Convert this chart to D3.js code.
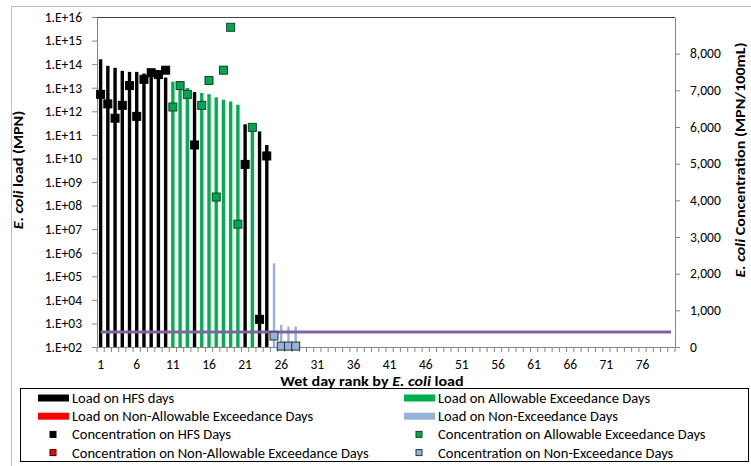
<!DOCTYPE html>
<html>
<head>
<meta charset="utf-8">
<script src="https://cdn.jsdelivr.net/npm/d3@7"></script>
<style>
  body { margin: 0; background: #fff; }
  svg { font-family: Carlito, Calibri, "Liberation Sans", sans-serif; }
</style>
</head>
<body>
<div id="chart"></div>
<script>
// wet-day ranks shown on the category axis
var ranks = d3.range(1, 81);
var tickRanks = [1, 6, 11, 16, 21, 26, 31, 36, 41, 46, 51, 56, 61, 66, 71, 76];

// load (MPN) for ranks 1..28
var loads = [1.6e14, 8.5e13, 7e13, 5.2e13, 4.7e13, 4.7e13, 4e13, 4e13, 3.5e13, 2.7e13,
             1.8e13, 1.3e13, 9.8e12, 6.6e12, 6e12, 5.3e12, 3.9e12, 3.1e12, 2.6e12, 1.9e12,
             2.8e11, 2.6e11, 1.4e11, 3.7e10, 3.5e5, 860, 730, 730];
// concentration (MPN/100mL) for ranks 1..28
var concs = [6890, 6630, 6240, 6590, 7130, 6290, 7300, 7480, 7430, 7550,
             6545, 7130, 6890, 5510, 6590, 7270, 4090, 7550, 8720, 3350,
             4980, 5990, 755, 5210, 300, 25, 25, 25];
// day class: H = HFS, A = allowable exceedance, N = non-exceedance
var dayClass = ["H","H","H","H","H","H","H","H","H","H",
                "A","A","A","H","A","A","A","A","A","A",
                "H","A","H","H","N","N","N","N"];
var threshold = 410;

var barColor = {H: "#000000", A: "#00b050", X: "#ff0000", N: "#95b3d7"};
var markFill = {H: "#000000", A: "#00a650", X: "#ff0000", N: "#95b3d7"};
var markStroke = {H: "#000000", A: "#1e3d26", X: "#3a0000", N: "#2b3440"};

var W = 751, H = 466;
var margin = {top: 17, right: 76, bottom: 119, left: 97};

var svg = d3.select("#chart").append("svg").attr("width", W).attr("height", H);

// outer chart border
svg.append("rect").attr("x", 11.5).attr("y", 6.5).attr("width", 800).attr("height", 500)
    .attr("fill", "none").attr("stroke", "#bfbfbf");

var x = d3.scaleBand().domain(ranks).range([margin.left, W - margin.right]);
var yL = d3.scaleLog().domain([1e2, 1e16]).range([H - margin.bottom, margin.top]);
var yR = d3.scaleLinear().domain([0, 9000]).range([H - margin.bottom, margin.top]);

var data = loads.map(function(d, i) {
  return {rank: ranks[i], load: d, conc: concs[i], cls: dayClass[i]};
});

// load bars
svg.append("g").selectAll("rect").data(data).enter().append("rect")
    .attr("x", function(d) { return x(d.rank) + x.bandwidth() / 2 - (d.cls === "N" ? 1.2 : 1.7); })
    .attr("width", function(d) { return d.cls === "N" ? 2.4 : 3.4; })
    .attr("y", function(d) { return yL(d.load); })
    .attr("height", function(d) { return yL(1e2) - yL(d.load); })
    .attr("fill", function(d) { return barColor[d.cls]; });

// threshold line
svg.append("line")
    .attr("x1", x(1) + x.bandwidth() / 2).attr("x2", W - margin.right - 4)
    .attr("y1", yR(threshold)).attr("y2", yR(threshold))
    .attr("stroke", "#8064a2").attr("stroke-width", 3);

// left axis
var leftAxis = d3.axisLeft(yL).tickValues(d3.range(2, 17).map(function(e) { return Math.pow(10, e); }))
    .tickFormat(function(d) { return "1.E+" + String(Math.round(Math.log10(d))).padStart(2, "0"); })
    .tickSizeOuter(0).tickSizeInner(5).tickPadding(10);
var gL = svg.append("g").attr("transform", "translate(" + margin.left + ",0)").call(leftAxis);

// right axis
var rightAxis = d3.axisRight(yR).tickValues(d3.range(0, 9000, 1000))
    .tickFormat(d3.format(",")).tickSizeOuter(0).tickSizeInner(5).tickPadding(10);
var gR = svg.append("g").attr("transform", "translate(" + (W - margin.right) + ",0)").call(rightAxis);

// bottom axis
var bottomAxis = d3.axisBottom(x).tickValues(tickRanks).tickSize(0).tickPadding(12);
var gB = svg.append("g").attr("transform", "translate(0," + (H - margin.bottom) + ")").call(bottomAxis);
gB.selectAll(".minor").data(d3.range(0, 81)).enter().append("line").attr("class", "minor")
    .attr("x1", function(i) { return margin.left + i * x.step(); })
    .attr("x2", function(i) { return margin.left + i * x.step(); })
    .attr("y1", 0).attr("y2", 5).attr("stroke", "#868686");

[gL, gR, gB].forEach(function(g) {
  g.selectAll(".domain").attr("stroke", "#868686");
  g.selectAll(".tick line").attr("stroke", "#868686");
  g.selectAll("text").attr("font-size", 13.5).attr("fill", "#000")
    .attr("font-family", "Carlito, Calibri, 'Liberation Sans', sans-serif");
});

// plot top border
svg.append("line").attr("x1", margin.left).attr("x2", W - margin.right)
    .attr("y1", margin.top + 0.5).attr("y2", margin.top + 0.5).attr("stroke", "#404040");

// concentration markers
svg.append("g").selectAll("rect").data(data).enter().append("rect")
    .attr("x", function(d) { return x(d.rank) + x.bandwidth() / 2 - 4; })
    .attr("y", function(d) { return yR(d.conc) - 4; })
    .attr("width", 8).attr("height", 8)
    .attr("fill", function(d) { return markFill[d.cls]; })
    .attr("stroke", function(d) { return markStroke[d.cls]; })
    .attr("stroke-width", 1);

// axis titles (text a little wider than the font, as in the source)
var leftTitle = svg.append("text").attr("transform", "translate(23,170) rotate(-90) scale(1.15,1)")
    .attr("text-anchor", "middle").attr("font-size", 14).attr("font-weight", "bold");
leftTitle.append("tspan").attr("font-style", "italic").text("E. coli");
leftTitle.append("tspan").text(" load (MPN)");

var rightTitle = svg.append("text").attr("transform", "translate(745,160) rotate(-90) scale(1.15,1)")
    .attr("text-anchor", "middle").attr("font-size", 14).attr("font-weight", "bold");
rightTitle.append("tspan").attr("font-style", "italic").text("E. coli");
rightTitle.append("tspan").text(" Concentration (MPN/100mL)");

var xTitle = svg.append("text").attr("transform", "translate(372,386) scale(1.15,1)")
    .attr("text-anchor", "middle").attr("font-size", 14).attr("font-weight", "bold");
xTitle.append("tspan").text("Wet day rank by ");
xTitle.append("tspan").attr("font-style", "italic").text("E. coli");
xTitle.append("tspan").text(" load");

// legend
var legendItems = [
  {label: "Load on HFS days", cls: "H", kind: "bar", col: 0, row: 0},
  {label: "Load on Allowable Exceedance Days", cls: "A", kind: "bar", col: 1, row: 0},
  {label: "Load on Non-Allowable Exceedance Days", cls: "X", kind: "bar", col: 0, row: 1},
  {label: "Load on Non-Exceedance Days", cls: "N", kind: "bar", col: 1, row: 1},
  {label: "Concentration on HFS Days", cls: "H", kind: "mark", col: 0, row: 2},
  {label: "Concentration on Allowable Exceedance Days", cls: "A", kind: "mark", col: 1, row: 2},
  {label: "Concentration on Non-Allowable Exceedance Days", cls: "X", kind: "mark", col: 0, row: 3},
  {label: "Concentration on Non-Exceedance Days", cls: "N", kind: "mark", col: 1, row: 3}
];
var legend = svg.append("g");
legend.append("rect").attr("x", 20.5).attr("y", 388.5).attr("width", 728).attr("height", 73)
    .attr("fill", "#fff").attr("stroke", "#000");
var colX = [38, 404];
var li = legend.selectAll("g.item").data(legendItems).enter().append("g").attr("class", "item")
    .attr("transform", function(d) { return "translate(" + colX[d.col] + "," + (398 + d.row * 18.2) + ")"; });
li.filter(function(d) { return d.kind === "bar"; }).append("rect")
    .attr("x", 0).attr("y", -3.5).attr("width", 31).attr("height", 7)
    .attr("fill", function(d) { return barColor[d.cls]; });
li.filter(function(d) { return d.kind === "mark"; }).append("rect")
    .attr("x", 12).attr("y", -3).attr("width", 6).attr("height", 6)
    .attr("fill", function(d) { return markFill[d.cls]; })
    .attr("stroke", function(d) { return markStroke[d.cls]; });
li.append("text").attr("transform", "translate(34,0) scale(1.04,1)")
    .attr("dy", "0.35em").attr("font-size", 14).text(function(d) { return d.label; });
</script>
</body>
</html>
